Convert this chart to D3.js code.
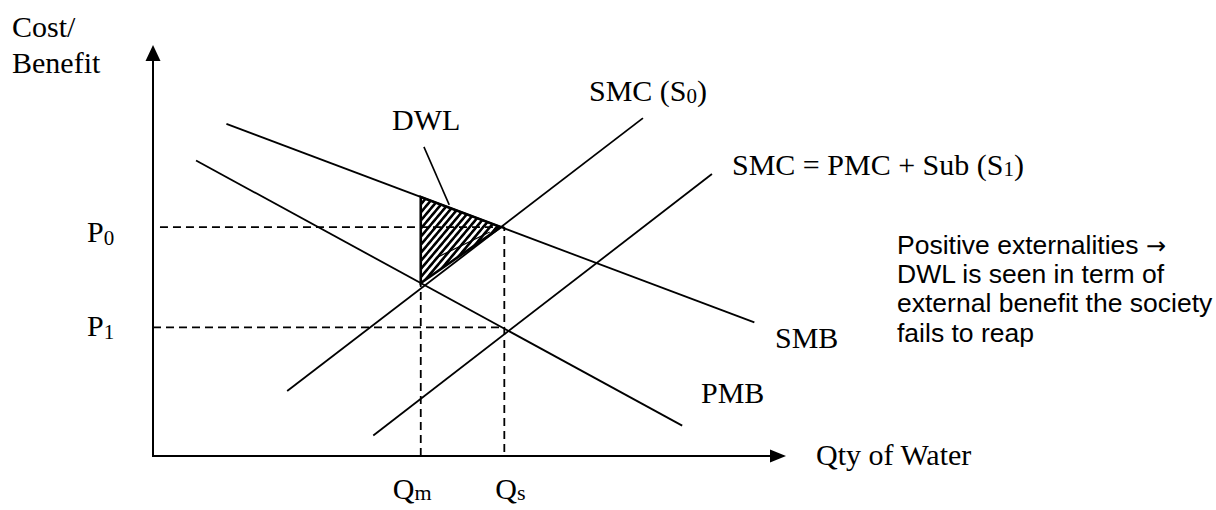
<!DOCTYPE html>
<html>
<head>
<meta charset="utf-8">
<script src="https://cdn.jsdelivr.net/npm/d3@7"></script>
<style>
  body { margin: 0; background: #fff; }
  text { fill: #000; }
</style>
</head>
<body>
<svg id="chart" width="1216" height="510"></svg>
<script>
// curves, as end points in chart units (quantity, cost/benefit)
const curveNames = ["SMB", "PMB", "SMC (S0)", "SMC = PMC + Sub (S1)"];
const curveQty = [[11.6, 95.0], [6.8, 83.6], [21.2, 77.4], [34.8, 88.3]];
const curvePrice = [[80.8, 32.5], [71.9, 7.4], [15.8, 82.2], [5.0, 68.6]];

// quantities and prices marked on the axes
const qtyNames = ["m", "s"];
const qtyValues = [42.3, 55.5];
const priceNames = ["0", "1"];
const priceValues = [55.7, 31.3];

// little pointer from the DWL label into the triangle
const pointerQty = [42.8, 46.8];
const pointerPrice = [75.2, 61.1];

const noteLines = [
    "Positive externalities ",
    "DWL is seen in term of",
    "external benefit the society",
    "fails to reap"
];

const svg = d3.select("#chart");
const serif = "'Liberation Serif', 'Times New Roman', serif";
const sans = "'Liberation Sans', Arial, sans-serif";

const x = d3.scaleLinear().domain([0, 100]).range([153, 786]);
const y = d3.scaleLinear().domain([0, 100]).range([456, 45]);

const curves = curveNames.map((name, i) => ({
    name,
    q: curveQty[i],
    p: curvePrice[i],
    slope: (curvePrice[i][1] - curvePrice[i][0]) / (curveQty[i][1] - curveQty[i][0])
}));
const at = (c, q) => c.p[0] + c.slope * (q - c.q[0]);

const [smb, pmb, s0] = curves;
const [qm, qs] = qtyValues;
const [p0, p1] = priceValues;

// hatch pattern for the DWL triangle
const defs = svg.append("defs");
defs.append("pattern")
    .attr("id", "hatch")
    .attr("width", 5.2)
    .attr("height", 5.2)
    .attr("patternUnits", "userSpaceOnUse")
    .attr("patternTransform", "rotate(40)")
    .append("rect")
    .attr("width", 2.6)
    .attr("height", 5.2)
    .attr("fill", "#000");

// DWL triangle: SMB at Qm, SMB meets SMC (S0), PMB at Qm
const qx = (smb.p[0] - smb.slope * smb.q[0] - s0.p[0] + s0.slope * s0.q[0]) / (s0.slope - smb.slope);
const tri = [[qm, at(smb, qm)], [qx, at(smb, qx)], [qm, at(pmb, qm)]];
svg.append("path")
    .attr("d", d3.line().x(d => x(d[0])).y(d => y(d[1]))(tri) + "Z")
    .attr("fill", "url(#hatch)")
    .attr("stroke", "#000")
    .attr("stroke-width", 2.6)
    .attr("stroke-linejoin", "miter");

// faint arrow inside the triangle
svg.append("line")
    .attr("x1", x(53.2)).attr("y1", y(54.5))
    .attr("x2", x(44.7)).attr("y2", y(48.2))
    .attr("stroke", "#000").attr("stroke-width", 1.2);

// dashed guides
const dash = "8,5";
const guides = [
    [[1.1, p0], [qs, p0]],
    [[0, p1], [qs, p1]],
    [[qm, 0], [qm, at(pmb, qm)]],
    [[qs, 1], [qs, p0]]
];
svg.append("g")
    .selectAll("line")
    .data(guides)
    .join("line")
    .attr("x1", d => x(d[0][0])).attr("y1", d => y(d[0][1]))
    .attr("x2", d => x(d[1][0])).attr("y2", d => y(d[1][1]))
    .attr("stroke", "#000")
    .attr("stroke-width", 1.8)
    .attr("stroke-dasharray", dash);

// curves
svg.append("g")
    .selectAll("line")
    .data(curves)
    .join("line")
    .attr("x1", d => x(d.q[0])).attr("y1", d => y(d.p[0]))
    .attr("x2", d => x(d.q[1])).attr("y2", d => y(d.p[1]))
    .attr("stroke", "#000")
    .attr("stroke-width", 1.8);

// DWL pointer
svg.append("line")
    .attr("x1", x(pointerQty[0])).attr("y1", y(pointerPrice[0]))
    .attr("x2", x(pointerQty[1])).attr("y2", y(pointerPrice[1]))
    .attr("stroke", "#000").attr("stroke-width", 1.6);

// axes with arrow heads
svg.append("line")
    .attr("x1", x(0)).attr("y1", y(0))
    .attr("x2", x(0)).attr("y2", y(100) + 10)
    .attr("stroke", "#000").attr("stroke-width", 2);
svg.append("path")
    .attr("d", `M${x(0)},${y(100)} l-7.5,16 h15 Z`)
    .attr("fill", "#000");
svg.append("line")
    .attr("x1", x(0) - 1).attr("y1", y(0))
    .attr("x2", x(100) - 10).attr("y2", y(0))
    .attr("stroke", "#000").attr("stroke-width", 2);
svg.append("path")
    .attr("d", `M${x(100)},${y(0)} l-16,-6.5 v13 Z`)
    .attr("fill", "#000");

// text helpers
function label(px, py, main, sub, after, opts = {}) {
    const t = svg.append("text")
        .attr("x", px).attr("y", py)
        .style("font-family", serif)
        .style("font-size", (opts.size || 30) + "px");
    t.append("tspan").text(main);
    if (sub !== undefined) {
        t.append("tspan")
            .attr("dy", opts.dy || 3)
            .style("font-size", (opts.subSize || 21) + "px")
            .text(sub);
        if (after) t.append("tspan").attr("dy", -(opts.dy || 3)).text(after);
    }
    return t;
}

label(12, 37, "Cost/");
label(12, 73, "Benefit");
label(816, 465, "Qty of Water");

priceNames.forEach((n, i) => label(87, y(priceValues[i]) + [15, 9][i], "P", n, "", { dy: 3 }));
qtyNames.forEach((n, i) => label(x(qtyValues[i]) - [28, 9][i], 499, "Q", n, "", { dy: 1, subSize: 22 }));

label(775, 348, "SMB");
label(701, 403, "PMB");
label(392, 130, "DWL");
label(589, 101, "SMC (S", "0", ")", { dy: 2 });
label(732, 175, "SMC = PMC + Sub (S", "1", ")", { dy: 1 });

const note = svg.append("g")
    .selectAll("text")
    .data(noteLines)
    .join("text")
    .attr("x", 897)
    .attr("y", (d, i) => 254 + i * 29.2)
    .style("font-family", sans)
    .style("font-size", "26.5px")
    .text(d => d);

// the arrow after the first note line, drawn with a font that has a bold arrow
note.filter((d, i) => i === 0)
    .append("tspan")
    .style("font-family", "'DejaVu Sans', sans-serif")
    .style("font-size", "24px")
    .text("\u2192");
</script>
</body>
</html>
